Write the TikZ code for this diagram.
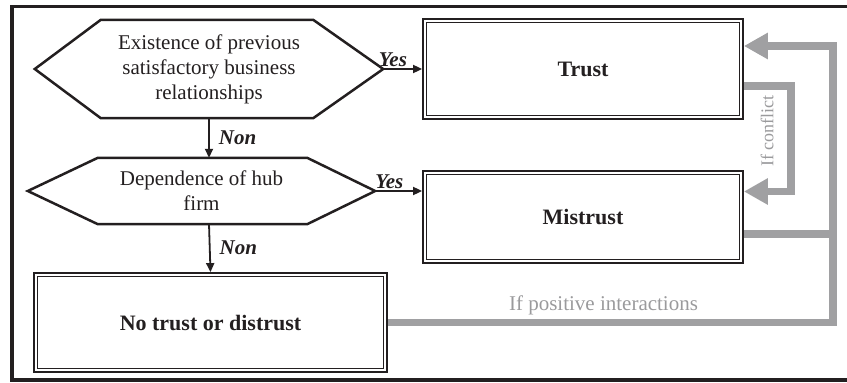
\documentclass[tikz,border=0pt]{standalone}
\usepackage{fontspec}
\setmainfont{Liberation Serif}
\usetikzlibrary{arrows.meta,calc}
\definecolor{ink}{HTML}{231F20}
\definecolor{gline}{HTML}{A0A0A2}
\definecolor{gtext}{HTML}{9A9A9C}
\tikzset{
  hexarea/.style={inner sep=0pt, align=center, font=\fontsize{21}{25}\selectfont, text=ink},
  hexline/.style={draw=ink, line width=2.5pt, line join=miter},
  boxnode/.style={draw=ink, line width=1.8pt, inner sep=0pt, font=\fontsize{22}{26}\selectfont\bfseries, text=ink},
  innerline/.style={draw=ink, line width=1pt},
  arr/.style={draw=ink, line width=1.8pt, -{Triangle[length=9pt,width=8pt]}},
  lab/.style={font=\fontsize{21}{25}\selectfont\bfseries\itshape, text=ink, inner sep=1pt},
  grayline/.style={draw=gline, line width=7.5pt},
  grayarr/.style={draw=gline, line width=7.5pt, -{Triangle[length=24pt,width=25pt]}},
  graytext/.style={text=gtext, inner sep=0pt},
}
\begin{document}
\begin{tikzpicture}[x=1pt,y=-1pt]
\useasboundingbox (0,0) rectangle (847,383);
% frame
\draw[ink, line width=3.5pt] (852,6.5) -- (12,6.5) -- (12,380) -- (852,380);

% decision hexagons
\node[hexarea, minimum width=348pt, minimum height=98pt] (h1) at (209,69)
  {Existence of previous\\satisfactory business\\relationships};
\draw[hexline] (h1.west) -- ([xshift=66pt]h1.north west) -- ([xshift=-70pt]h1.north east)
  -- (h1.east) -- ([xshift=-70pt]h1.south east) -- ([xshift=66pt]h1.south west) -- cycle;

\node[hexarea, minimum width=347pt, minimum height=66pt] (h2) at (201.5,191)
  {Dependence of hub\\firm};
\draw[hexline] (h2.west) -- ([xshift=70pt]h2.north west) -- ([xshift=-68pt]h2.north east)
  -- (h2.east) -- ([xshift=-68pt]h2.south east) -- ([xshift=70pt]h2.south west) -- cycle;

% outcome boxes
\node[boxnode, minimum width=320pt, minimum height=100pt] (trust) at (583,69) {Trust};
\node[boxnode, minimum width=320pt, minimum height=92pt] (mis) at (583,217) {Mistrust};
\node[boxnode, minimum width=353pt, minimum height=99pt] (none) at (210.5,322.5) {No trust or distrust};
\foreach \n in {trust,mis,none}
  \draw[innerline] ([shift={(4pt,-4pt)}]\n.north west) rectangle ([shift={(-4pt,4pt)}]\n.south east);

% black arrows
\draw[arr] (h1.east) -- node[lab, pos=0.25, above] {Yes} (trust.west);
\draw[arr] (h2.east) -- node[lab, pos=0.3, above] {Yes} (h2.east -| mis.west);
\draw[arr] (h1.south) -- node[lab, right, xshift=8pt] {Non} (h1.south |- h2.north);
\draw[arr] (h1.south |- h2.south) -- node[lab, right, xshift=8pt] {Non} (none.north);

% gray feedback
\coordinate (rt) at (833,46);
\draw[grayarr] ([yshift=-17pt]trust.east) -- ++(47pt,0) |- ([yshift=25.5pt]mis.east);
\node[graytext, rotate=90, font=\fontsize{18}{22}\selectfont] (conf) at (767,131) {If conflict};
\draw[grayline] ([yshift=-17pt]mis.east) -- ([yshift=-17pt]mis.east -| rt);
\draw[grayarr] (none.east) -| (rt) -- (rt -| trust.east);
\node[graytext, font=\fontsize{21}{25}\selectfont] (pos) at (603.5,305) {If positive interactions};
\end{tikzpicture}
\end{document}
